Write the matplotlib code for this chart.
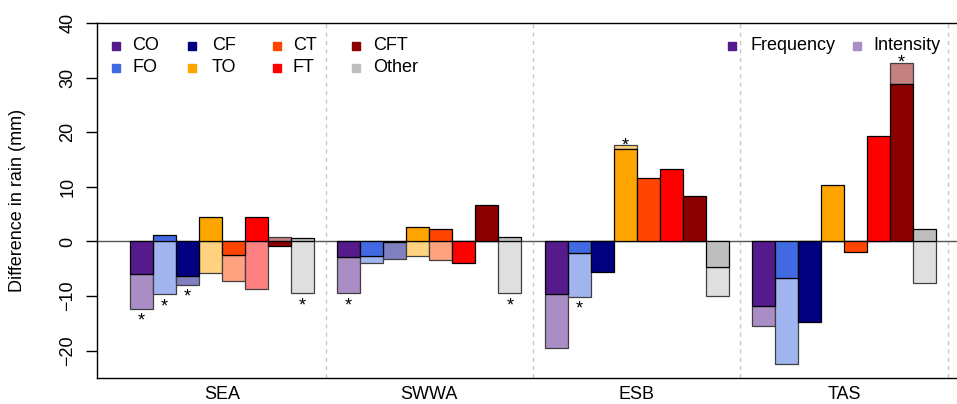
import numpy as np
import matplotlib.pyplot as plt
from matplotlib.colors import to_rgb

plt.rcParams['font.family'] = ['Liberation Sans', 'DejaVu Sans']
plt.rcParams['font.size'] = 13

regions = ['SEA', 'SWWA', 'ESB', 'TAS']
types = ['CO', 'FO', 'CF', 'TO', 'CT', 'FT', 'CFT', 'Other']
colours = ['#551A8B', '#4169E1', '#000080', '#FFA500', '#FF4500', '#FF0000', '#8B0000', '#BEBEBE']

# frequency and intensity contributions (mm), one list per region, ordered as types
freq_sea = [-6.0, 1.2, -6.3, 4.4, -2.5, 4.4, -0.9, 0.7]
inten_sea = [-6.4, -9.7, -1.7, -5.7, -4.7, -8.75, 0.75, -9.5]
freq_swwa = [-2.9, -2.6, -0.1, 2.6, 2.3, -4.0, 6.6, 0.8]
inten_swwa = [-6.6, -1.4, -3.1, -2.75, -3.4, 0.0, 0.0, -9.5]
freq_esb = [-9.7, -2.1, -5.6, 17.0, 11.7, 13.2, 8.3, -4.6]
inten_esb = [-9.8, -8.0, 0.0, 0.6, 0.0, 0.0, 0.0, -5.4]
freq_tas = [-11.8, -6.6, -14.75, 10.3, -2.0, 19.4, 28.85, 2.3]
inten_tas = [-3.6, -15.8, 0.0, 0.0, 0.0, 0.0, 3.85, -7.6]

# significant changes (marked with *)
sig_sea = ['CO', 'FO', 'CF', 'Other']
sig_swwa = ['CO', 'Other']
sig_esb = ['FO', 'TO']
sig_tas = ['CFT']

freqs = [freq_sea, freq_swwa, freq_esb, freq_tas]
intens = [inten_sea, inten_swwa, inten_esb, inten_tas]
sigs = [sig_sea, sig_swwa, sig_esb, sig_tas]

light = [tuple(0.5 * np.array(to_rgb(c)) + 0.5) for c in colours]

fig = plt.figure(figsize=(9.57, 4.04), dpi=100)
ax = fig.add_axes([97 / 957, 26 / 404, 1 - 97 / 957, 355 / 404])

ax.axhline(0, color='#555555', lw=1, zorder=1)

ngroup = len(types) + 1
for g in range(len(regions)):
    for k, t in enumerate(types):
        x = g * ngroup + k + 0.5
        f = freqs[g][k]
        i = intens[g][k]
        base = f if f * i > 0 else 0
        ax.bar(x, i, width=1, bottom=base, color=light[k], edgecolor='#404040', lw=0.9, zorder=2)
        ax.bar(x, f, width=1, bottom=0, color=colours[k], edgecolor='black', lw=0.9, zorder=3)
        if t in sigs[g]:
            if f + i < 0:
                ax.annotate('*', (x, min(0, f, base + i)), xytext=(0, -12), textcoords='offset points',
                            ha='center', va='baseline', fontsize=13)
            else:
                ax.annotate('*', (x, max(0, f, base + i)), xytext=(0, -3.5), textcoords='offset points',
                            ha='center', va='baseline', fontsize=13)
    ax.axvline(g * ngroup + len(types) + 0.5, color='#C8C8C8', lw=1, ls=(0, (3, 3)), zorder=0)

ax.set_xlim(-1.43, 35.91)
ax.set_ylim(-25, 40)
ax.set_xticks([g * ngroup + len(types) / 2 for g in range(len(regions))])
ax.set_xticklabels(regions)
ax.set_yticks(np.arange(-20, 41, 10))
ax.set_yticklabels([str(v).replace('-', '\u2212') for v in range(-20, 41, 10)], rotation=90, va='center')
ax.tick_params(axis='x', length=0, pad=6)
ax.tick_params(axis='y', length=8, width=1, pad=7)
ax.spines['right'].set_visible(False)
for s in ['left', 'top', 'bottom']:
    ax.spines[s].set_linewidth(1)

ax.set_ylabel('Difference in rain (mm)')
ax.yaxis.set_label_coords(-0.0826, 0.5)


def axfrac(px, py):
    return (px - 97) / 860, (378 - py) / 355


# type legend, two rows
marker_x = [116, 192, 277, 356]
text_x = [132, 212, 293, 373]
for k, t in enumerate(types):
    col, row = k // 2, k % 2
    py = [46, 68][row]
    mx, my = axfrac(marker_x[col], py)
    tx, _ = axfrac(text_x[col], py)
    ax.plot(mx, my, 's', color=colours[k], ms=5.5, transform=ax.transAxes, clip_on=False)
    ax.text(tx, my, t, transform=ax.transAxes, va='center', ha='left')

# component legend
for c, lab, mpx, tpx in [(colours[0], 'Frequency', 732, 751), (light[0], 'Intensity', 857, 873)]:
    mx, my = axfrac(mpx, 46)
    tx, _ = axfrac(tpx, 46)
    ax.plot(mx, my, 's', color=c, ms=5.5, transform=ax.transAxes, clip_on=False)
    ax.text(tx, my, lab, transform=ax.transAxes, va='center', ha='left')

fig.savefig('out.png', dpi=100)
